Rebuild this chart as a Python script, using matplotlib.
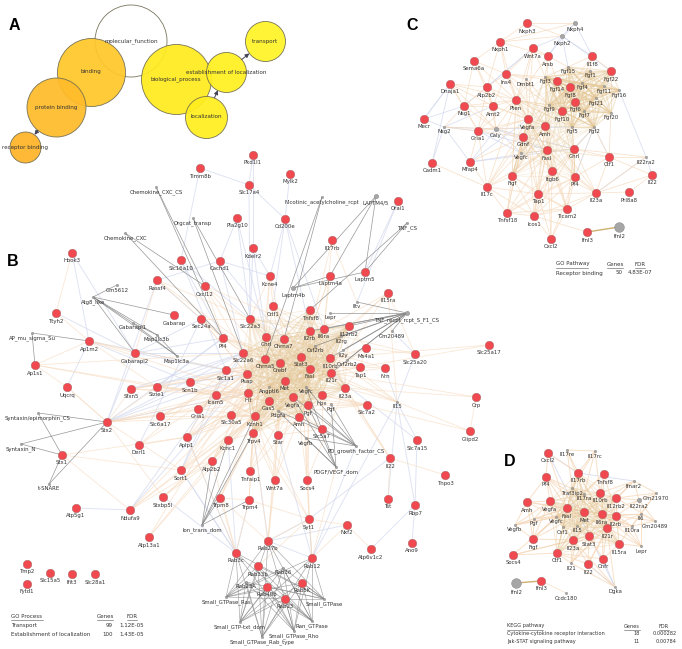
import matplotlib
matplotlib.use('Agg')
import matplotlib.pyplot as plt
from matplotlib.collections import LineCollection
from itertools import combinations

plt.rcParams['font.family'] = ['DejaVu Sans']

### panel A, GO term bubbles
go_names = ['molecular_function', 'binding', 'protein binding', 'receptor binding',
            'biological_process', 'establishment of localization', 'localization', 'transport']
go_x = [131, 91, 56, 25, 176, 226, 206, 265]
go_y = [41, 72, 107, 147, 79, 72, 117, 41]
go_r = [36, 34, 29.5, 15.5, 35, 20, 21, 20]
go_colors = ['none', '#FFC72A', '#FFBB2A', '#FFB428', '#FFEB1E', '#FFF020', '#FFEE1E', '#FFF426']
go_arrows = [('protein binding', 'receptor binding'), ('establishment of localization', 'transport'),
             ('localization', 'establishment of localization')]

### panel B, transport network
b_names = ['Pkd1l1', 'Timm8b', 'Mylk2', 'Slc17a4', 'Pla2g10', 'Cd200e', 'Orai1', 'Il17rb', 'Kdelr2', 'Cachd1',
           'Kcne4', 'Laptm5', 'Laptm4a', 'Il15ra', 'Crlf1', 'Tnfsf8', 'Il6ra', 'Il12rb2', 'Il2rb', 'Slc22a3',
           'Ghrl', 'Chrna7', 'Ms4a1', 'Slc25a20', 'Slc22a6', 'Chrna5', 'Crebf', 'Stat3', 'Il10rb', 'Tap1',
           'Nrn', 'Fasl', 'Il21r', 'Psap', 'Slc1a1', 'Icam5', 'Hlt', 'Met', 'Il23a', 'Hpx',
           'Vegfa', 'Gas5', 'Pgf', 'Hook3', 'Ttyh2', 'Ap1m2', 'Ap1s1', 'Uqcrq', 'Sfxn5', 'Sizie1',
           'Scn1b', 'Slc16a10', 'Rassf4', 'Cxcl12', 'Gabarap', 'Sec24a', 'Pf4', 'Gabarapl2', 'Slc30a5', 'Kcnh1',
           'Amh', 'Slc7a2', 'Kcnc1', 'Trpv4', 'Star', 'Slc5a7', 'Slc7a15', 'Il22', 'Tnpo3', 'Tnfaip1',
           'Wnt7a', 'Socs4', 'Tst', 'Rbp7', 'Trpm4', 'Trpm8', 'Syt1', 'Nxf2', 'Ano9', 'Atp6v1c2',
           'Rab27b', 'Rab3c', 'Rab12', 'Rab33b', 'Rab5K', 'Rab40b', 'Rab13', 'Stx2', 'Slc6a17', 'Gria1',
           'Stx1', 'Derl1', 'Aplp1', 'Atp2b2', 'Sort1', 'Stxbp5l', 'Atp5g1', 'Ndufa9', 'Atp13a1', 'Tmp2',
           'Slc15a5', 'Ifit3', 'Slc28a1', 'Fytd1', 'Slc25a17', 'Crp', 'Glipd2']
b_x = [253, 200, 290, 249, 237, 285, 398, 332, 253, 220,
       270, 365, 330, 388, 273, 310, 324, 349, 310, 250,
       266, 284, 366, 415, 243, 265, 280, 301, 330, 360,
       385, 310, 331, 247, 226, 216, 248, 285, 345, 322,
       293, 269, 308, 72, 56, 89, 35, 67, 131, 157,
       190, 181, 157, 205, 174, 201, 223, 135, 231, 255,
       299, 367, 228, 253, 278, 322, 417, 390, 445, 250,
       275, 307, 388, 415, 249, 220, 309, 347, 412, 371,
       268, 236, 312, 258, 302, 267, 285, 107, 160, 198,
       62, 139, 187, 212, 181, 163, 76, 130, 149, 27,
       50, 72, 95, 27, 489, 476, 470]
b_y = [155, 168, 174, 185, 218, 219, 201, 240, 248, 261,
       276, 272, 276, 293, 306, 310, 329, 326, 331, 319,
       337, 339, 348, 354, 353, 359, 363, 357, 358, 367,
       368, 369, 373, 374, 370, 395, 393, 381, 388, 395,
       397, 401, 405, 253, 313, 341, 365, 387, 389, 387,
       382, 260, 280, 286, 315, 319, 338, 353, 415, 416,
       417, 405, 440, 433, 435, 429, 440, 458, 475, 471,
       480, 480, 499, 505, 500, 498, 519, 525, 543, 549,
       541, 553, 558, 566, 583, 587, 599, 422, 416, 409,
       455, 445, 437, 461, 470, 497, 508, 510, 537, 564,
       573, 574, 574, 584, 345, 397, 431]
b_small = ['Chemokine_CXC_CS', 'Orgcat_transp', 'Chemokine_CXC', 'Nicotinic_acetylcholine_rcpt', 'LAPTM4/5',
           'TNF_CS', 'Laptm4b', 'Iltv', 'TNF_recpt_rcpt_S_F1_CS', 'Lepr', 'Il2rg', 'Csf2rb', 'Gm20489',
           'Il2y', 'Csf2rb2', 'Angptl6', 'Vegfc', 'Il15', 'Gm5612', 'Atg8_like', 'Gabarapl1', 'Map1lc3b',
           'Map1lc3a', 'AP_mu_sigma_Su', 'Pgfs', 'Pdgfa', 'Vegfb', 'PD_growth_factor_CS', 'PDGF/VEGF_dom',
           'Rab36', 'Rab23A', 'Small_GTPase_Ras', 'Small_GTPase', 'Small_GTP-txt_dom', 'Ran_GTPase',
           'Small_GTPase_Rho', 'Small_GTPase_Rab_type', 'Syntaxin/epimorphin_CS', 'Syntaxin_N', 't-SNARE',
           'Ion_trans_dom']
b_small_x = [156, 193, 125, 322, 376, 407, 293, 357, 407, 330, 341, 315, 392,
             343, 347, 269, 306, 397, 117, 93, 133, 157,
             177, 32, 331, 278, 306, 356, 336,
             283, 246, 226, 324, 240, 312,
             294, 262, 38, 21, 49,
             202]
b_small_y = [187, 218, 233, 197, 196, 223, 288, 302, 313, 313, 336, 346, 331,
             350, 360, 387, 387, 402, 285, 297, 323, 335,
             356, 333, 404, 411, 438, 446, 467,
             568, 582, 597, 599, 622, 621,
             631, 637, 413, 444, 484,
             525]
b_small_labels = {'Pgfs': 'Pgf'}
b_mid = ['LAPTM4/5', 'Laptm4b', 'TNF_recpt_rcpt_S_F1_CS']

# domain nodes and their members, dark lines
b_dark = {'Chemokine_CXC_CS': 'Cxcl12 Pf4',
          'Chemokine_CXC': 'Cxcl12 Pf4',
          'Orgcat_transp': 'Slc22a3 Slc22a6',
          'Nicotinic_acetylcholine_rcpt': 'Chrna7 Chrna5',
          'LAPTM4/5': 'Laptm4a Laptm5 Laptm4b',
          'Laptm4b': 'Laptm4a Laptm5',
          'TNF_CS': 'Tnfsf8 Laptm5',
          'TNF_recpt_rcpt_S_F1_CS': 'Il6ra Il12rb2 Il2rb Il10rb Lepr Il2rg Iltv Csf2rb Gm20489 Il2y Csf2rb2 Il21r',
          'Atg8_like': 'Gm5612 Gabarap Gabarapl1 Gabarapl2 Map1lc3a Map1lc3b',
          'Gabarapl1': 'Map1lc3a Map1lc3b',
          'Map1lc3b': 'Map1lc3a',
          'AP_mu_sigma_Su': 'Ap1m2 Ap1s1',
          'Syntaxin/epimorphin_CS': 'Stx1 Stx2',
          'Syntaxin_N': 'Stx1 Stx2',
          't-SNARE': 'Stx1 Stx2',
          'PD_growth_factor_CS': 'Vegfa Vegfb Pgf Pgfs Pdgfa Vegfc Amh',
          'PDGF/VEGF_dom': 'Vegfa Vegfb Pgf Pgfs Pdgfa Vegfc',
          'Ion_trans_dom': 'Kcnc1 Kcnh1 Trpm8 Trpv4 Trpm4 Atp2b2'}
b_rabs = ['Rab27b', 'Rab3c', 'Rab12', 'Rab33b', 'Rab36', 'Rab23A', 'Rab5K', 'Rab40b', 'Rab13']
b_gtp = ['Small_GTPase_Ras', 'Small_GTPase', 'Small_GTP-txt_dom', 'Ran_GTPase', 'Small_GTPase_Rho', 'Small_GTPase_Rab_type']

# the core is too dense to read line by line, so it is kept as one group
b_core = ['Chrna7', 'Chrna5', 'Crebf', 'Stat3', 'Il10rb', 'Fasl', 'Il21r', 'Il2rb', 'Il6ra', 'Il12rb2',
          'Il2rg', 'Csf2rb', 'Met', 'Vegfc', 'Angptl6', 'Vegfa', 'Gas5', 'Pgf', 'Hpx', 'Il23a',
          'Pdgfa', 'Amh', 'Kcnh1', 'Trpv4', 'Hlt', 'Psap', 'Slc22a6', 'Slc22a3', 'Ghrl', 'Tnfsf8']
b_orange = {'Rassf4': 'Slc22a3 Pf4 Gabarapl2 Chrna5',
            'Ap1m2': 'Gabarapl2 Ap1s1 Slc1a1 Sizie1 Hlt',
            'Ap1s1': 'Slc22a6 Sizie1 Icam5',
            'Hook3': 'Ttyh2',
            'Ttyh2': 'Ap1m2',
            'Uqcrq': 'Ap1s1 Stx2',
            'Stx2': 'Slc6a17 Gria1 Sizie1 Hlt Icam5 Sfxn5 Uqcrq Kcnh1 Gas5 Sort1 Stxbp5l',
            'Stx1': 'Sort1 Aplp1 Ndufa9',
            'Derl1': 'Aplp1 Psap Slc1a1',
            'Slc6a17': 'Kcnh1 Hlt Chrna5 Psap',
            'Gria1': 'Kcnh1 Hlt Met Chrna5 Crebf Icam5',
            'Aplp1': 'Kcnh1 Hlt Fasl Gas5 Met Psap Slc1a1',
            'Atp2b2': 'Hlt Chrna5 Crebf Kcnh1 Gas5',
            'Sort1': 'Psap Kcnh1 Atp2b2 Hlt Met',
            'Stxbp5l': 'Gas5 Kcnh1 Atp2b2',
            'Ndufa9': 'Atp2b2 Sort1 Hlt Kcnh1',
            'Atp13a1': 'Gas5 Psap Atp2b2',
            'Scn1b': 'Psap Chrna5 Hlt Kcnh1',
            'Icam5': 'Fasl Met Gas5 Il21r Il23a Hlt Kcnh1 Psap',
            'Sizie1': 'Hlt Gas5 Crebf Icam5',
            'Sfxn5': 'Hlt Icam5 Psap Crebf',
            'Slc30a5': 'Kcnh1 Hlt Gas5 Psap Met Vegfa Amh',
            'Slc1a1': 'Psap Crebf Met Stat3 Slc22a6',
            'Pf4': 'Slc22a6 Chrna5 Met Fasl Il21r Stat3 Sec24a',
            'Cxcl12': 'Pf4 Slc22a6 Il2rb Fasl Met',
            'Sec24a': 'Slc22a3 Chrna5 Psap Gas5',
            'Crlf1': 'Il6ra Il2rb Chrna5 Stat3 Fasl Met Il21r',
            'Kcne4': 'Kcnh1 Ghrl Chrna7 Crlf1 Slc22a3',
            'Laptm4a': 'Il2rb Il6ra Stat3',
            'Il15ra': 'Il12rb2 Il2rg Il6ra Il21r Il15',
            'Il17rb': 'Il6ra Il2rb Iltv',
            'Ms4a1': 'Il10rb Il21r Fasl Tap1 Il12rb2',
            'Tap1': 'Il21r Il10rb Fasl Met Il23a Stat3',
            'Nrn': 'Chrna7 Met Tap1',
            'Il15': 'Il23a Il21r Fasl Il2rb Il10rb',
            'Slc7a2': 'Hpx Met Pgf Kcnh1 Gas5 Vegfa',
            'Slc5a7': 'Kcnh1 Hpx Met Gas5 Psap Star',
            'Star': 'Kcnh1 Gas5 Amh Pdgfa Vegfa Met',
            'Kcnc1': 'Kcnh1 Hlt Gas5 Trpv4 Atp2b2',
            'Tnfaip1': 'Kcnh1 Gas5 Amh Vegfa Trpv4',
            'Wnt7a': 'Vegfa Amh Pdgfa Hlt Trpv4',
            'Socs4': 'Il23a Amh Fasl Vegfb Stat3',
            'Trpm8': 'Trpv4 Kcnh1 Gas5',
            'Trpm4': 'Trpv4 Kcnh1 Syt1 Trpm8 Rab3c',
            'Syt1': 'Rab27b Rab33b Kcnh1 Pgf Trpv4 Socs4',
            'Nxf2': 'Atp6v1c2 Syt1 Rab12',
            'Il22': 'Tnpo3 Il23a Il21r Tst Il2rb',
            'Rab27b': 'Trpv4 Star Pdgfa Wnt7a Trpm8',
            'Rab12': 'Syt1 Socs4 PDGF/VEGF_dom',
            'Rab3c': 'Trpm8 Atp2b2 Aplp1',
            'Slc25a20': 'Ms4a1 Il15ra Il2rg',
            'Slc25a17': 'Tap1 Il10rb',
            'Crp': 'Il21r Il23a Glipd2',
            'Glipd2': 'Hpx Il15'}
b_blue = {'Hook3': 'Gabarapl2 Ap1m2',
          'Ttyh2': 'Gabarapl2',
          'Ap1m2': 'Scn1b Psap Uqcrq',
          'Stx2': 'Slc1a1 Slc22a6 Psap Hlt Pf4 Gabarapl2 Rassf4',
          'Atp5g1': 'Ndufa9',
          'Ndufa9': 'Psap Slc22a6',
          'Sort1': 'Slc22a6 Slc1a1 Rab3c',
          'Aplp1': 'Rab3c Slc1a1',
          'Derl1': 'Sec24a',
          'Sfxn5': 'Slc22a6 Slc1a1',
          'Sizie1': 'Psap Slc22a6 Pf4',
          'Gabarapl2': 'Pf4 Sec24a Slc22a6 Slc1a1',
          'Rassf4': 'Sec24a Cachd1',
          'Slc16a10': 'Slc22a3 Pf4 Slc1a1',
          'Cachd1': 'Chrna7 Slc22a6 Kcne4',
          'Pla2g10': 'Slc22a3 Cachd1 Ghrl',
          'Slc17a4': 'Cd200e Slc22a3',
          'Mylk2': 'Cd200e',
          'Cd200e': 'Crlf1 Il2rb Il6ra Kcne4',
          'Pkd1l1': 'Slc17a4 Kdelr2',
          'Timm8b': 'Slc16a10 Slc17a4',
          'Kdelr2': 'Slc22a3 Kcne4 Ghrl',
          'Il15': 'Slc7a15 Rbp7 Rab12 Tst Nrn',
          'Rbp7': 'Ano9 Atp6v1c2 Slc7a15',
          'Il22': 'Syt1',
          'Rab27b': 'Rab12 Nxf2 Syt1 Hlt',
          'Rab3c': 'Trpm4 Stxbp5l Sort1 Kcnc1',
          'Rab12': 'PD_growth_factor_CS Syt1 Star',
          'Orai1': 'Iltv Laptm5',
          'Slc7a15': 'Il21r',
          'Slc25a20': 'Il15 Gm20489'}

### panel C, receptor binding network
c_names = ['Nxph3', 'Nxph1', 'Wnt7a', 'Arsb', 'Il1f8', 'Sema6a', 'Fgf22', 'Ins4', 'Fgf14', 'Fgf8',
           'Dnaja1', 'Atp2b2', 'Nsg1', 'Arnt2', 'Pten', 'Fgf6', 'Fgf10', 'Mecr', 'Gria1', 'Vegfa',
           'Amh', 'Gdnf', 'Fasl', 'Ghrl', 'Ctf1', 'Cadm1', 'Mfap4', 'Itgb6', 'Il22', 'Figf',
           'Pf4', 'Il17c', 'Tap1', 'Il23a', 'Prl8a8', 'Tnfsf18', 'Icos1', 'Ticam2', 'Ifnl3', 'Cxcl2']
c_x = [527, 500, 533, 548, 592, 474, 611, 506, 557, 570,
       450, 487, 464, 493, 516, 575, 562, 424, 478, 528,
       545, 523, 547, 574, 609, 432, 470, 552, 652, 512,
       575, 487, 538, 596, 629, 507, 534, 567, 587, 551]
c_y = [23, 42, 48, 56, 56, 61, 71, 74, 81, 87,
       84, 87, 106, 106, 100, 102, 111, 119, 131, 119,
       126, 137, 150, 149, 157, 163, 162, 171, 175, 176,
       177, 187, 194, 193, 192, 213, 216, 209, 232, 239]
c_small = ['Nxph4', 'Nxph2', 'Fgf15', 'Fgf1', 'Dmbt1', 'Fgf3', 'Fgf4', 'Fgf11', 'Fgf16', 'Fgf21',
           'Fgf9', 'Fgf7', 'Fgf20', 'Nsg2', 'Caly', 'Fgf5', 'Fgf2', 'Vegfc', 'Il22ra2', 'Ifnl2']
c_small_x = [575, 562, 568, 590, 526, 545, 582, 604, 619, 596,
             549, 584, 611, 444, 496, 572, 594, 521, 646, 619]
c_small_y = [23, 36, 67, 71, 79, 77, 83, 86, 90, 98,
             105, 111, 113, 127, 129, 127, 127, 153, 157, 227]
c_mid = ['Nxph4', 'Nxph2', 'Caly']

c_fgf = ['Fgf22', 'Fgf14', 'Fgf8', 'Fgf6', 'Fgf10', 'Fgf15', 'Fgf1', 'Fgf3', 'Fgf4', 'Fgf11',
         'Fgf16', 'Fgf21', 'Fgf9', 'Fgf7', 'Fgf20', 'Fgf5', 'Fgf2']
c_core = ['Pten', 'Vegfa', 'Amh', 'Gdnf', 'Fasl', 'Ghrl', 'Fgf10', 'Fgf9', 'Fgf14', 'Fgf3',
          'Itgb6', 'Pf4', 'Vegfc', 'Figf', 'Fgf5', 'Fgf2', 'Fgf8']
c_orange = {'Nxph3': 'Nxph4 Nxph2 Nxph1',
            'Nxph1': 'Nxph4 Nxph2 Ins4 Atp2b2 Sema6a Pten Arsb',
            'Wnt7a': 'Arsb Ins4 Dmbt1 Pten Vegfa Fgf3',
            'Arsb': 'Fgf14 Pten Fgf15 Fgf3 Amh',
            'Il1f8': 'Fgf22 Fgf15 Fgf1 Fgf8 Fgf4',
            'Sema6a': 'Ins4 Atp2b2 Arnt2 Pten Nsg1',
            'Ins4': 'Dmbt1 Pten Vegfa Amh Fgf3 Arnt2 Fgf9 Atp2b2 Fgf14',
            'Dmbt1': 'Fgf9 Pten Vegfa Amh',
            'Dnaja1': 'Atp2b2 Nsg1 Arnt2 Pten Gria1 Caly',
            'Atp2b2': 'Arnt2 Pten Nsg1 Gria1 Caly Vegfa',
            'Nsg1': 'Arnt2 Nsg2 Gria1 Caly Pten',
            'Arnt2': 'Pten Vegfa Caly Amh Gria1',
            'Pten': 'Fgf9 Fgf10 Caly Gria1 Fasl Figf Il17c Fgf5',
            'Gria1': 'Caly Gdnf Vegfa Nsg2 Mfap4 Il17c',
            'Caly': 'Vegfa Gdnf Amh Nsg2',
            'Gdnf': 'Figf Il17c Tap1 Itgb6 Mfap4 Tnfsf18 Vegfa',
            'Vegfa': 'Figf Tap1 Il17c Tnfsf18 Icos1 Itgb6',
            'Amh': 'Figf Tap1 Icos1 Ticam2 Il23a Il17c',
            'Fasl': 'Tap1 Icos1 Ticam2 Il23a Tnfsf18 Cxcl2 Il17c Figf Ctf1',
            'Ghrl': 'Ctf1 Il23a Pf4 Tap1 Ticam2 Icos1 Il22ra2',
            'Ctf1': 'Il22ra2 Il22 Il23a Pf4 Fgf2 Fgf20',
            'Cadm1': 'Il17c',
            'Il17c': 'Figf Tap1 Tnfsf18 Icos1 Mfap4',
            'Figf': 'Tap1 Tnfsf18 Icos1 Ticam2',
            'Itgb6': 'Tap1 Icos1 Ticam2 Il23a Tnfsf18 Cxcl2',
            'Pf4': 'Il23a Tap1 Icos1 Ticam2 Cxcl2 Tnfsf18',
            'Tap1': 'Icos1 Tnfsf18 Ticam2 Il23a Cxcl2',
            'Il23a': 'Ticam2 Il22 Prl8a8 Il22ra2 Icos1',
            'Icos1': 'Ifnl3 Cxcl2 Ticam2 Tnfsf18',
            'Ticam2': 'Cxcl2 Tnfsf18',
            'Prl8a8': 'Il22'}
c_blue = {'Nxph2': 'Arsb Il1f8 Nxph4 Fgf22 Fgf15 Wnt7a',
          'Nxph4': 'Il1f8 Arsb',
          'Mecr': 'Nsg1 Nsg2 Dnaja1',
          'Nsg2': 'Cadm1 Caly Gria1 Arnt2 Mfap4',
          'Mfap4': 'Caly Fasl Vegfa Ghrl',
          'Gria1': 'Vegfc Fasl',
          'Caly': 'Fasl Ghrl Vegfc Fgf5',
          'Fgf16': 'Il22ra2',
          'Fgf2': 'Ghrl Pf4 Ctf1',
          'Il22ra2': 'Il23a Il22',
          'Wnt7a': 'Nsg1 Atp2b2',
          'Dnaja1': 'Mecr Cadm1'}
c_thick = [('Ifnl3', 'Ifnl2')]

### panel D, KEGG network
d_names = ['Cxcl2', 'Il17rb', 'Tnfsf8', 'Pf4', 'Il10rb', 'Il12rb2', 'Amh', 'Vegfa', 'Fasl', 'Met',
           'Il6ra', 'Il2rb', 'Il21r', 'Figf', 'Il23a', 'Stat3', 'Il15ra', 'Socs4', 'Ctf1', 'Cnfr',
           'Il22', 'Ifnl3']
d_x = [548, 578, 604, 546, 600, 616, 527, 550, 567, 584,
       602, 616, 607, 533, 573, 589, 619, 513, 557, 603,
       588, 541]
d_y = [453, 473, 474, 477, 493, 498, 502, 501, 508, 512,
       514, 516, 528, 539, 540, 536, 544, 555, 553, 559,
       564, 581]
d_small = ['Il17re', 'Il17rc', 'Ifnar2', 'Traf3ip2', 'Il17ra', 'Gm21970', 'Il22ra2', 'Il6', 'Gm20489', 'Vegfc',
           'Pgf', 'Vegfb', 'Csf1', 'Il15', 'Il10ra', 'Lepr', 'Il21', 'Dgka', 'Ifnl2', 'Ccdc180']
d_small_x = [567, 595, 634, 572, 584, 656, 639, 641, 655, 556,
             534, 515, 563, 577, 632, 641, 571, 615, 516, 566]
d_small_y = [450, 451, 481, 488, 494, 493, 500, 514, 521, 517,
             519, 525, 527, 526, 526, 546, 563, 587, 583, 593]
d_mid = ['Il22ra2']

d_core = ['Il17rb', 'Il10rb', 'Il12rb2', 'Vegfa', 'Fasl', 'Met', 'Il6ra', 'Il2rb', 'Il21r', 'Il23a',
          'Stat3', 'Traf3ip2', 'Il17ra', 'Vegfc', 'Csf1', 'Il15', 'Il15ra', 'Ctf1']
d_orange = {'Il17re': 'Il17rc Il17rb Traf3ip2 Il17ra',
            'Il17rc': 'Il17rb Traf3ip2 Il17ra Il10rb',
            'Cxcl2': 'Il17rb Pf4 Fasl',
            'Pf4': 'Vegfa Fasl Met Il17ra Csf1 Il6ra Amh',
            'Tnfsf8': 'Il10rb Il17ra Il6ra Il2rb Fasl',
            'Ifnar2': 'Il10rb Il12rb2 Il6ra Il22ra2 Gm21970 Met',
            'Gm21970': 'Il12rb2 Il22ra2 Il6 Il10ra',
            'Il22ra2': 'Il12rb2 Il2rb Il6ra Il6 Gm20489',
            'Il6': 'Il2rb Il6ra Il21r Gm20489 Il10ra',
            'Gm20489': 'Il2rb Il12rb2 Il10ra',
            'Il10ra': 'Il2rb Il21r Il6ra Il15ra Lepr Met',
            'Lepr': 'Il2rb Il21r Il6ra Il15ra Il6',
            'Amh': 'Vegfa Fasl Met Pgf Vegfc Figf Vegfb',
            'Pgf': 'Vegfa Fasl Met Vegfc Vegfb Figf',
            'Vegfb': 'Vegfa Fasl Vegfc Met Figf',
            'Figf': 'Vegfa Fasl Met Vegfc Il23a',
            'Socs4': 'Ctf1 Il23a Fasl Stat3',
            'Ctf1': 'Il21 Il22 Cnfr',
            'Il21': 'Il23a Il21r Il2rb Stat3 Met',
            'Il22': 'Il23a Il21r Stat3 Il2rb Dgka',
            'Cnfr': 'Stat3 Il6ra Il21r Il15ra',
            'Dgka': 'Il21r Il23a Il21'}
d_blue = {'Cxcl2': 'Dgka Il17rb',
          'Il17rb': 'Ifnar2',
          'Dgka': 'Il22 Cnfr'}
d_thick = [('Ifnl2', 'Ifnl3')]
d_thin = [('Ifnl3', 'Ccdc180')]

### tables under the networks
b_table = [('GO Process', 'Genes', 'FDR'), ('Transport', '99', '1.12E-05'),
           ('Establishment of localization', '100', '1.43E-05')]
c_table = [('GO Pathway', 'Genes', 'FDR'), ('Receptor binding', '50', '4.83E-07')]
d_table = [('KEGG pathway', 'Genes', 'FDR'), ('Cytokine-cytokine receptor interaction', '18', '0.000282'),
           ('Jak-STAT signaling pathway', '11', '0.00784')]

ORANGE = '#F6D8BA'
BLUE = '#D3D9EE'
DARK = '#858585'
TAN = '#E5C795'
RED = '#F0494F'
GRAY = '#A6A6A6'
LABEL = '#333333'
LABEL_SIZE = 3.9

fig = plt.figure(figsize=(6.82, 6.49), dpi=100)
ax = fig.add_axes([0, 0, 1, 1])
ax.set_xlim(0, 682)
ax.set_ylim(649, 0)
ax.axis('off')


def pairs(hubs):
    out = []
    for hub, others in hubs.items():
        for other in others.split():
            out.append((hub, other))
    return out


def draw_edges(pos, edges, color, lw, alpha, z=1):
    segs = [(pos[a], pos[b]) for a, b in edges]
    ax.add_collection(LineCollection(segs, colors=color, linewidths=lw, alpha=alpha, zorder=z))


def draw_nodes(names, xs, ys, small, sx, sy, mid, labels={}, big=()):
    ax.scatter(xs, ys, s=38, c=RED, edgecolors='#9A7070', linewidths=0.3, zorder=3)
    for name, x, y in zip(names, xs, ys):
        ax.text(x, y + 8, name, fontsize=LABEL_SIZE, color=LABEL, ha='center', va='center', zorder=5)
    for name, x, y in zip(small, sx, sy):
        size = 3
        off = 5
        if name in mid:
            size = 10
            off = 7
        if name in big:
            size = 50
            off = 9
        ax.scatter([x], [y], s=size, c=GRAY, edgecolors='#777777', linewidths=0.25, zorder=3)
        ax.text(x, y + off, labels.get(name, name), fontsize=LABEL_SIZE, color=LABEL,
                ha='center', va='center', zorder=5)


def draw_table(rows, x0, x1, x2, top, step, size=4.0, right=None):
    for i, row in enumerate(rows):
        y = top + i * step
        ax.text(x0, y, row[0], fontsize=size, color=LABEL, ha='left', va='center')
        if i == 0:
            ax.text(x1, y, row[1], fontsize=size, color=LABEL, ha='center', va='center')
            ax.text(x2, y, row[2], fontsize=size, color=LABEL, ha='center', va='center')
            w0 = 32 if len(row[0]) == 10 else 36
            ax.plot([x0, x0 + w0], [y + 3.5, y + 3.5], color='#555555', lw=0.4)
            ax.plot([x1 - 8, x1 + 8], [y + 3.5, y + 3.5], color='#555555', lw=0.4)
            ax.plot([x2 - 5, x2 + 5], [y + 3.5, y + 3.5], color='#555555', lw=0.4)
        else:
            ax.text(x1 + 8, y, row[1], fontsize=size, color=LABEL, ha='right', va='center')
            ax.text(x2 if right is None else right, y, row[2], fontsize=size, color=LABEL,
                    ha='center' if right is None else 'right', va='center')


### panel A
for name, x, y, r, col in zip(go_names, go_x, go_y, go_r, go_colors):
    ax.scatter([x], [y], s=(2 * r * 0.72) ** 2, facecolors=col, edgecolors='#6E6A50', linewidths=0.6,
               alpha=0.93, zorder=2)
    ax.text(x, y, name, fontsize=4.1, color='#333333', ha='center', va='center', zorder=4)
go_pos = dict(zip(go_names, zip(go_x, go_y)))
go_rad = dict(zip(go_names, go_r))
for a, b in go_arrows:
    xa, ya = go_pos[a]
    xb, yb = go_pos[b]
    d = ((xb - xa) ** 2 + (yb - ya) ** 2) ** 0.5
    ux, uy = (xb - xa) / d, (yb - ya) / d
    ax.annotate('', xy=(xb - ux * go_rad[b], yb - uy * go_rad[b]),
                xytext=(xa + ux * go_rad[a], ya + uy * go_rad[a]),
                arrowprops=dict(arrowstyle='-|>', color='#444455', lw=0.7, mutation_scale=6,
                                shrinkA=0, shrinkB=0), zorder=3)

### panel B
pos = dict(zip(b_names, zip(b_x, b_y))) | dict(zip(b_small, zip(b_small_x, b_small_y)))
draw_edges(pos, pairs(b_blue), BLUE, 0.7, 0.7)
draw_edges(pos, pairs(b_orange), ORANGE, 0.6, 0.6)
draw_edges(pos, list(combinations(b_core, 2)), TAN, 0.6, 0.3)
draw_edges(pos, pairs(b_dark), DARK, 0.5, 0.85, z=2)
draw_edges(pos, [(r, g) for r in b_rabs for g in b_gtp], DARK, 0.45, 0.75, z=2)
draw_nodes(b_names, b_x, b_y, b_small, b_small_x, b_small_y, b_mid, labels=b_small_labels)
draw_table(b_table, 11, 105, 132, 616, 9.3)

### panel C
pos = dict(zip(c_names, zip(c_x, c_y))) | dict(zip(c_small, zip(c_small_x, c_small_y)))
draw_edges(pos, pairs(c_blue), BLUE, 0.6, 0.8)
draw_edges(pos, pairs(c_orange), ORANGE, 0.6, 0.7)
draw_edges(pos, list(combinations(c_core, 2)), TAN, 0.5, 0.3)
draw_edges(pos, list(combinations(c_fgf, 2)), TAN, 0.8, 0.45)
draw_edges(pos, c_thick, '#C9A860', 1.0, 0.9)
draw_nodes(c_names, c_x, c_y, c_small, c_small_x, c_small_y, c_mid, big=('Ifnl2',))
draw_table(c_table, 556, 615, 640, 264, 9)

### panel D
pos = dict(zip(d_names, zip(d_x, d_y))) | dict(zip(d_small, zip(d_small_x, d_small_y)))
draw_edges(pos, pairs(d_blue), BLUE, 0.6, 0.9)
draw_edges(pos, pairs(d_orange), ORANGE, 0.7, 0.8)
draw_edges(pos, list(combinations(d_core, 2)), TAN, 0.6, 0.4)
draw_edges(pos, d_thick, '#C9A860', 1.0, 0.9)
draw_edges(pos, d_thin, ORANGE, 0.5, 0.8)
draw_nodes(d_names, d_x, d_y, d_small, d_small_x, d_small_y, d_mid, big=('Ifnl2',))
draw_table(d_table, 507, 632, 664, 626, 7.6, size=3.6, right=677)

### panel letters
for letter, x, y in [('A', 14, 25), ('B', 13, 262), ('C', 412, 25), ('D', 510, 462)]:
    ax.text(x, y, letter, fontsize=11.5, fontweight='bold', family='Liberation Sans',
            color='black', ha='center', va='center', zorder=6)

fig.savefig('out.png', dpi=100)
